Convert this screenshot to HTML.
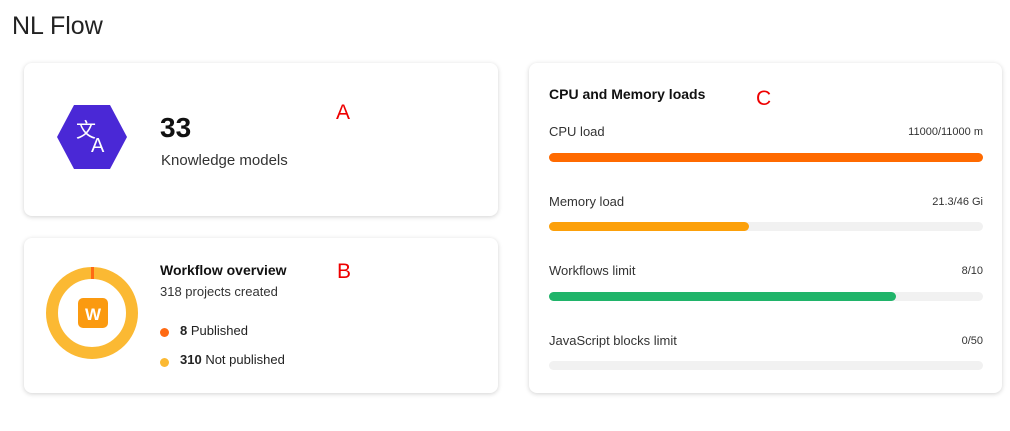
<!DOCTYPE html>
<html><head><style>
body{margin:0;width:1010px;height:431px;background:#fff;font-family:"Liberation Sans",sans-serif;position:relative;overflow:hidden;color:#222}
.a{position:absolute}
.card{position:absolute;background:#fff;border-radius:8px;box-shadow:0 1px 5px rgba(0,0,0,.18)}
.red{color:#e00;font-size:21px}
.bar{position:absolute;left:549px;width:434px;height:9px;border-radius:5px;background:#f1f1f1}
.bar div{height:9px;border-radius:5px}
.lbl{position:absolute;left:549px;font-size:13px;color:#333}
.val{position:absolute;right:27px;font-size:11px;color:#333}
</style></head><body>
<div class="a" style="left:12px;top:12px;font-size:25px;color:#222">NL Flow</div>

<div class="card" style="left:24px;top:63px;width:474px;height:153px"></div>
<svg class="a" style="left:56px;top:103px" width="72" height="68" viewBox="0 0 72 68"><polygon points="18,2 54,2 71,34 54,66 18,66 1,34" fill="#4a28d6"/><text x="20" y="34" fill="#fff" font-size="20" font-family="Liberation Sans">文</text><text x="35" y="49" fill="#fff" font-size="20" font-family="Liberation Sans">A</text></svg>
<div class="a" style="left:160px;top:112px;font-size:28px;font-weight:bold;color:#111">33</div>
<div class="a" style="left:161px;top:152px;font-size:15px;color:#333">Knowledge models</div>
<div class="a red" style="left:336px;top:101px">A</div>

<div class="card" style="left:24px;top:238px;width:474px;height:155px"></div>
<svg class="a" style="left:44px;top:265px" width="96" height="96"><circle cx="48" cy="48" r="40" fill="none" stroke="#fbb933" stroke-width="12"/><rect x="47" y="2" width="3" height="12" fill="#ff6a13"/><rect x="34" y="33" width="30" height="30" rx="5" fill="#fb9a10"/><text x="49" y="55" text-anchor="middle" fill="#fff" font-size="17" font-weight="bold" font-family="Liberation Sans">W</text></svg>
<div class="a" style="left:160px;top:262px;font-size:14px;font-weight:bold;color:#111">Workflow overview</div>
<div class="a" style="left:160px;top:284px;font-size:13px;color:#333">318 projects created</div>
<div class="a" style="left:160px;top:328px;width:9px;height:9px;border-radius:50%;background:#ff6a13"></div>
<div class="a" style="left:180px;top:323px;font-size:13px;color:#222"><b>8</b> Published</div>
<div class="a" style="left:160px;top:358px;width:9px;height:9px;border-radius:50%;background:#fbb933"></div>
<div class="a" style="left:180px;top:352px;font-size:13px;color:#222"><b>310</b> Not published</div>
<div class="a red" style="left:337px;top:260px">B</div>

<div class="card" style="left:529px;top:63px;width:473px;height:330px"></div>
<div class="a" style="left:549px;top:86px;font-size:14px;font-weight:bold;color:#111">CPU and Memory loads</div>
<div class="a red" style="left:756px;top:87px">C</div>
<div class="lbl" style="top:124px">CPU load</div><div class="val" style="top:126px">11000/11000 m</div>
<div class="bar" style="top:153px"><div style="width:434px;background:#ff6a00"></div></div>
<div class="lbl" style="top:194px">Memory load</div><div class="val" style="top:196px">21.3/46 Gi</div>
<div class="bar" style="top:222px"><div style="width:200px;background:#fca00a"></div></div>
<div class="lbl" style="top:263px">Workflows limit</div><div class="val" style="top:265px">8/10</div>
<div class="bar" style="top:292px"><div style="width:347px;background:#20b46a"></div></div>
<div class="lbl" style="top:333px">JavaScript blocks limit</div><div class="val" style="top:335px">0/50</div>
<div class="bar" style="top:361px"></div>
</body></html>
